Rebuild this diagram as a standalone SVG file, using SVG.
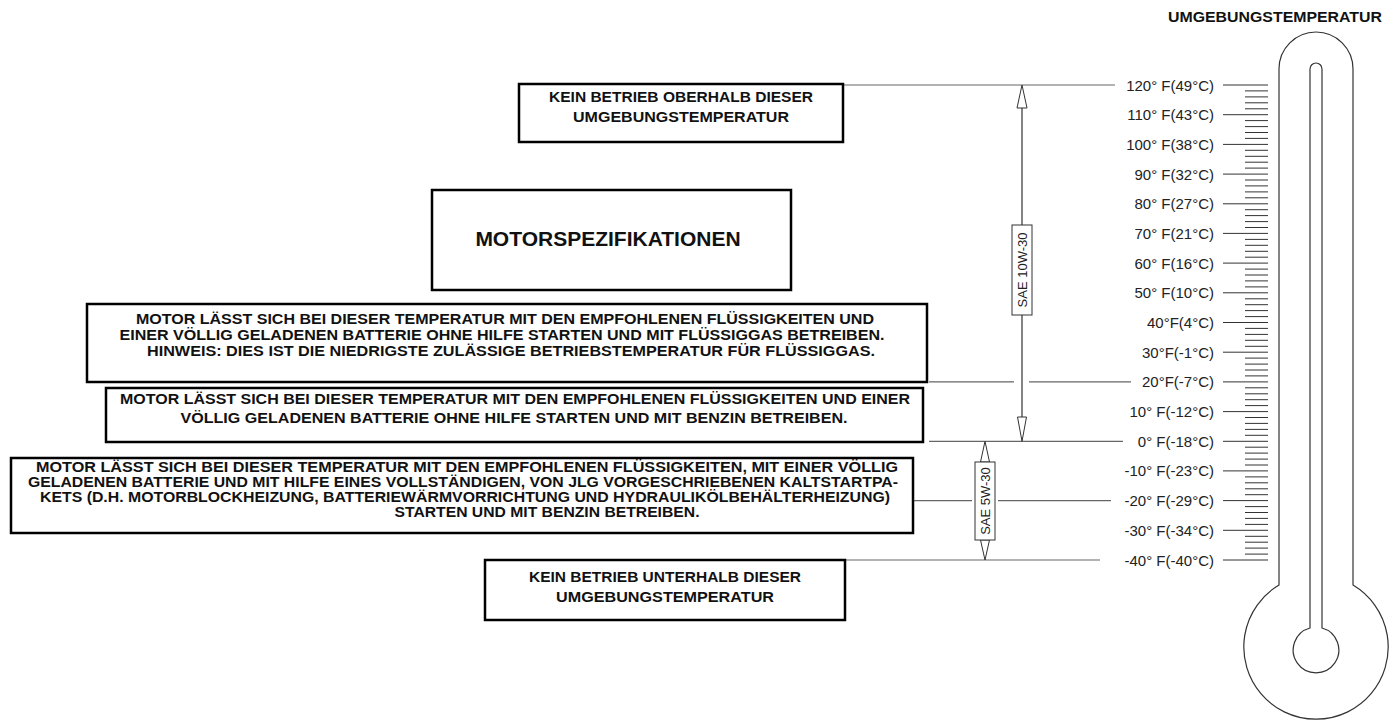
<svg xmlns="http://www.w3.org/2000/svg" width="1390" height="721" viewBox="0 0 1390 721">
<style>
.box{fill:#fff;stroke:#000;stroke-width:2.5}
.bt{font-family:"Liberation Sans",Arial,sans-serif;font-weight:bold;font-size:14px;fill:#111;text-anchor:middle}
.big{font-family:"Liberation Sans",Arial,sans-serif;font-weight:bold;font-size:21px;fill:#111;text-anchor:middle}
.lbl{font-family:"Liberation Sans",Arial,sans-serif;font-size:15px;fill:#222;text-anchor:end}
.sae{font-family:"Liberation Sans",Arial,sans-serif;font-size:13px;fill:#222;text-anchor:middle}
.lead{stroke:#666;stroke-width:1.2;fill:none}
.therm{stroke:#333;stroke-width:1.2;fill:none}
.tick{stroke:#333;stroke-width:1;fill:none}
.ah{fill:#fff;stroke:#333;stroke-width:1}
.abox{fill:#fff;stroke:#333;stroke-width:1}
</style>

<g id="title">
<text class="bt" style="text-anchor:end" x="1382" y="22" textLength="214" lengthAdjust="spacingAndGlyphs">UMGEBUNGSTEMPERATUR</text>
</g>

<g id="thermometer">
<path class="therm" d="M1279,585 V69 A37,37 0 0 1 1353,69 V585 A72.2,72.2 0 1 1 1279,585 Z"/>
<path class="therm" d="M1310,628 V69 A6,6 0 0 1 1322,69 V628 A22.8,22.8 0 1 1 1310,628 Z"/>
<path class="tick" d="M1223,85h45M1245,90.9h23M1245,96.9h23M1245,102.8h23M1245,108.8h23M1223,114.7h45M1245,120.6h23M1245,126.6h23M1245,132.5h23M1245,138.4h23M1223,144.4h45M1245,150.3h23M1245,156.3h23M1245,162.2h23M1245,168.1h23M1223,174.1h45M1245,180h23M1245,185.9h23M1245,191.9h23M1245,197.8h23M1223,203.8h45M1245,209.7h23M1245,215.6h23M1245,221.6h23M1245,227.5h23M1223,233.4h45M1245,239.4h23M1245,245.3h23M1245,251.3h23M1245,257.2h23M1223,263.1h45M1245,269.1h23M1245,275h23M1245,280.9h23M1245,286.9h23M1223,292.8h45M1245,298.8h23M1245,304.7h23M1245,310.6h23M1245,316.6h23M1223,322.5h45M1245,328.4h23M1245,334.4h23M1245,340.3h23M1245,346.3h23M1223,352.2h45M1245,358.1h23M1245,364.1h23M1245,370h23M1245,375.9h23M1223,381.9h45M1245,387.8h23M1245,393.8h23M1245,399.7h23M1245,405.6h23M1223,411.6h45M1245,417.5h23M1245,423.4h23M1245,429.4h23M1245,435.3h23M1223,441.3h45M1245,447.2h23M1245,453.1h23M1245,459.1h23M1245,465h23M1223,470.9h45M1245,476.9h23M1245,482.8h23M1245,488.8h23M1245,494.7h23M1223,500.6h45M1245,506.6h23M1245,512.5h23M1245,518.4h23M1245,524.4h23M1223,530.3h45M1245,536.3h23M1245,542.2h23M1245,548.1h23M1245,554.1h23M1223,560h45"/>
</g>

<g id="scale-labels">
<text class="lbl" x="1214" y="90.5">120° F(49°C)</text>
<text class="lbl" x="1214" y="120.2">110° F(43°C)</text>
<text class="lbl" x="1214" y="149.9">100° F(38°C)</text>
<text class="lbl" x="1214" y="179.6">90° F(32°C)</text>
<text class="lbl" x="1214" y="209.3">80° F(27°C)</text>
<text class="lbl" x="1214" y="238.9">70° F(21°C)</text>
<text class="lbl" x="1214" y="268.6">60° F(16°C)</text>
<text class="lbl" x="1214" y="298.3">50° F(10°C)</text>
<text class="lbl" x="1214" y="328">40°F(4°C)</text>
<text class="lbl" x="1214" y="357.7">30°F(-1°C)</text>
<text class="lbl" x="1214" y="387.4">20°F(-7°C)</text>
<text class="lbl" x="1214" y="417.1">10° F(-12°C)</text>
<text class="lbl" x="1214" y="446.8">0° F(-18°C)</text>
<text class="lbl" x="1214" y="476.4">-10° F(-23°C)</text>
<text class="lbl" x="1214" y="506.1">-20° F(-29°C)</text>
<text class="lbl" x="1214" y="535.8">-30° F(-34°C)</text>
<text class="lbl" x="1214" y="565.5">-40° F(-40°C)</text>
</g>

<g id="connectors">
<path class="lead" d="M843,85H1115"/>
<path class="lead" d="M929,381.9H1014M1029,381.9H1131"/>
<path class="lead" d="M929,441.3H1123"/>
<path class="lead" d="M913,500.6H972M998,500.6H1111"/>
<path class="lead" d="M845,560H1100"/>
<path class="lead" style="stroke:#333" d="M1022,108V225M1022,315V417"/>
<polygon class="ah" points="1022,85 1017,108 1027,108"/>
<polygon class="ah" points="1022,441.3 1017.5,417 1026.5,417"/>
<polygon class="ah" points="985,441.3 980.5,462 989.5,462"/>
<polygon class="ah" points="985,560 980.5,540 989.5,540"/>
</g>

<g id="sae10w30">
<rect class="abox" x="1012" y="225" width="20" height="90"/>
<text class="sae" transform="translate(1026.5,270) rotate(-90)" x="0" y="0">SAE 10W-30</text>
</g>

<g id="sae5w30">
<rect class="abox" x="975" y="462" width="20" height="78"/>
<text class="sae" transform="translate(989.5,501) rotate(-90)" x="0" y="0">SAE 5W-30</text>
</g>

<g id="box-no-op-above">
<rect class="box" x="519" y="84" width="324" height="58"/>
<text class="bt" x="681" y="102" textLength="264" lengthAdjust="spacingAndGlyphs">KEIN BETRIEB OBERHALB DIESER</text>
<text class="bt" x="681" y="122" textLength="216" lengthAdjust="spacingAndGlyphs">UMGEBUNGSTEMPERATUR</text>
</g>

<g id="box-spec">
<rect class="box" x="432" y="190" width="359" height="100"/>
<text class="big" x="608" y="246">MOTORSPEZIFIKATIONEN</text>
</g>

<g id="box-lpg">
<rect class="box" x="87" y="304" width="840" height="78"/>
<text class="bt" x="505" y="324" textLength="738" lengthAdjust="spacingAndGlyphs">MOTOR LÄSST SICH BEI DIESER TEMPERATUR MIT DEN EMPFOHLENEN FLÜSSIGKEITEN UND</text>
<text class="bt" x="502" y="340" textLength="765" lengthAdjust="spacingAndGlyphs">EINER VÖLLIG GELADENEN BATTERIE OHNE HILFE STARTEN UND MIT FLÜSSIGGAS BETREIBEN.</text>
<text class="bt" x="511" y="356" textLength="728" lengthAdjust="spacingAndGlyphs">HINWEIS: DIES IST DIE NIEDRIGSTE ZULÄSSIGE BETRIEBSTEMPERATUR FÜR FLÜSSIGGAS.</text>
</g>

<g id="box-gasoline">
<rect class="box" x="106" y="388" width="817" height="54"/>
<text class="bt" x="515" y="404" textLength="790" lengthAdjust="spacingAndGlyphs">MOTOR LÄSST SICH BEI DIESER TEMPERATUR MIT DEN EMPFOHLENEN FLÜSSIGKEITEN UND EINER</text>
<text class="bt" x="514" y="423" textLength="667" lengthAdjust="spacingAndGlyphs">VÖLLIG GELADENEN BATTERIE OHNE HILFE STARTEN UND MIT BENZIN BETREIBEN.</text>
</g>

<g id="box-coldstart">
<rect class="box" x="11" y="458" width="902" height="75"/>
<text class="bt" x="467" y="472" textLength="862" lengthAdjust="spacingAndGlyphs">MOTOR LÄSST SICH BEI DIESER TEMPERATUR MIT DEN EMPFOHLENEN FLÜSSIGKEITEN, MIT EINER VÖLLIG</text>
<text class="bt" x="463" y="487" textLength="870" lengthAdjust="spacingAndGlyphs">GELADENEN BATTERIE UND MIT HILFE EINES VOLLSTÄNDIGEN, VON JLG VORGESCHRIEBENEN KALTSTARTPA-</text>
<text class="bt" x="465" y="502" textLength="850" lengthAdjust="spacingAndGlyphs">KETS (D.H. MOTORBLOCKHEIZUNG, BATTERIEWÄRMVORRICHTUNG UND HYDRAULIKÖLBEHÄLTERHEIZUNG)</text>
<text class="bt" x="547" y="517" textLength="305" lengthAdjust="spacingAndGlyphs">STARTEN UND MIT BENZIN BETREIBEN.</text>
</g>

<g id="box-no-op-below">
<rect class="box" x="485" y="560" width="360" height="60"/>
<text class="bt" x="665" y="582" textLength="272" lengthAdjust="spacingAndGlyphs">KEIN BETRIEB UNTERHALB DIESER</text>
<text class="bt" x="665" y="602" textLength="218" lengthAdjust="spacingAndGlyphs">UMGEBUNGSTEMPERATUR</text>
</g>
</svg>
